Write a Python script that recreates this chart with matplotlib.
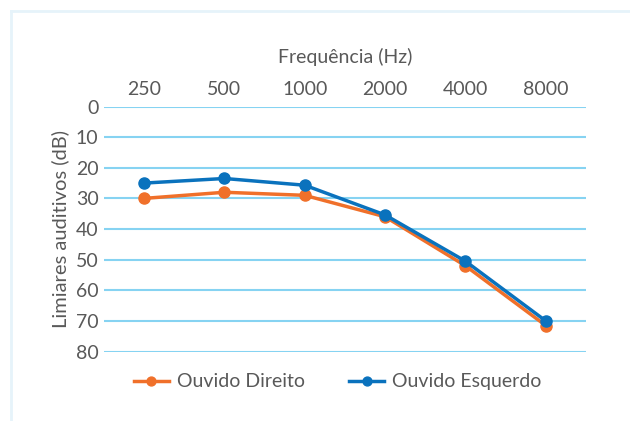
import matplotlib.pyplot as plt
from matplotlib.lines import Line2D

plt.rcParams['font.family'] = ['Lato', 'DejaVu Sans']

freqs = ["250", "500", "1000", "2000", "4000", "8000"]
direito = [30, 28, 29, 36, 52, 71.5]
esquerdo = [25, 23.5, 25.7, 35.4, 50.5, 70]
yticks = [0, 10, 20, 30, 40, 50, 60, 70, 80]

text_color = "#595959"
orange = "#F0702A"
blue = "#0A72BD"
grid_color = "#86D3F2"

fig = plt.figure(figsize=(6.3, 4.21), dpi=100)
ax = fig.add_axes([0.165, 0.165, 0.765, 0.582])

x = list(range(len(freqs)))
ax.plot(x, direito, color=orange, lw=2.5, marker="o", ms=8, label="Ouvido Direito", zorder=3)
ax.plot(x, esquerdo, color=blue, lw=2.5, marker="o", ms=8, label="Ouvido Esquerdo", zorder=4)

ax.set_xlim(-0.5, len(freqs) - 0.5)
ax.set_ylim(80, 0)
ax.set_yticks(yticks)
ax.set_xticks(x)
ax.set_xticklabels(freqs)
ax.xaxis.tick_top()
ax.xaxis.set_label_position("top")
ax.set_xlabel("Frequência (Hz)", fontsize=14, color=text_color, labelpad=13)
ax.set_ylabel("Limiares auditivos (dB)", fontsize=14.5, color=text_color, labelpad=5)
ax.tick_params(axis="both", length=0, labelsize=14, labelcolor=text_color)
ax.tick_params(axis="x", pad=6)
ax.tick_params(axis="y", pad=4)
for s in ax.spines.values():
    s.set_visible(False)
ax.yaxis.grid(True, color=grid_color, lw=1.5)
ax.set_axisbelow(True)

leg = fig.legend(loc="center", bbox_to_anchor=(0.536, 0.093), ncol=2, frameon=False,
                 fontsize=14, handlelength=1.8, columnspacing=2.3, handletextpad=0.4,
                 markerscale=0.8)
for t in leg.get_texts():
    t.set_color(text_color)

# light border on top and left
border = "#E6F3FA"
fig.add_artist(Line2D([11 / 630, 1], [1 - 11 / 421, 1 - 11 / 421], transform=fig.transFigure, color=border, lw=2))
fig.add_artist(Line2D([11 / 630, 11 / 630], [0, 1 - 11 / 421], transform=fig.transFigure, color=border, lw=2))

fig.savefig("out.png", dpi=100)
